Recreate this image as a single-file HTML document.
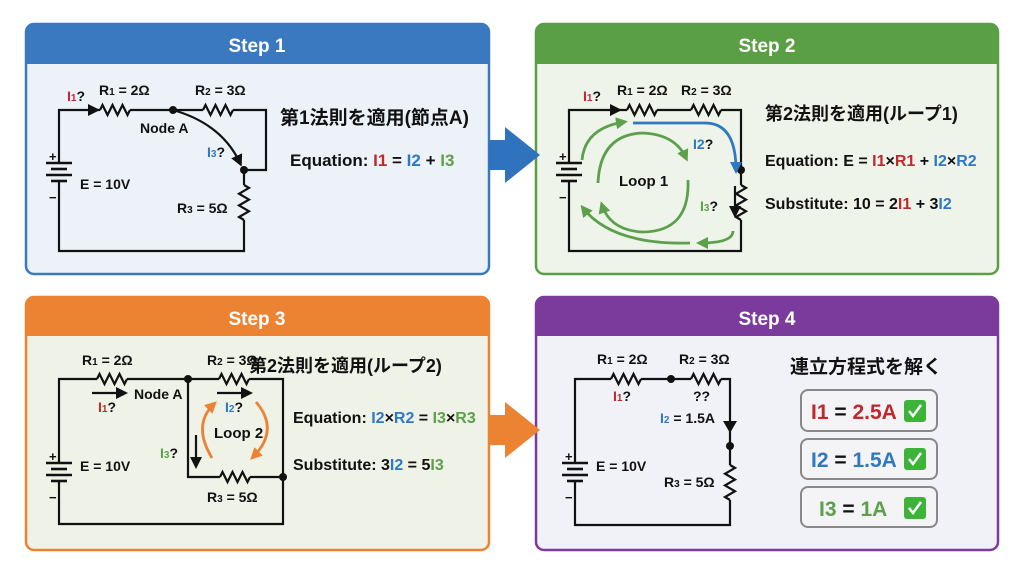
<!DOCTYPE html>
<html><head><meta charset="utf-8"><style>
html,body{margin:0;padding:0;background:#fff;}
svg text{font-family:"Liberation Sans","Noto Sans CJK JP",sans-serif;font-weight:bold;}
</style></head><body>
<svg width="1024" height="572" viewBox="0 0 1024 572" xmlns="http://www.w3.org/2000/svg">
<defs>
<path id="rh" d="M0 0 L2.5 -5 L7.5 5 L12.5 -5 L17.5 5 L22.5 -5 L27.5 5 L30 0" fill="none" stroke="#111" stroke-width="2.2"/>
<path id="rv" d="M0 0 L5 2.9 L-5 8.75 L5 14.6 L-5 20.4 L5 26.25 L-5 32 L0 35" fill="none" stroke="#111" stroke-width="2.2"/>
<g id="bat" stroke="#111" stroke-width="2.6">
<line x1="-13" y1="0" x2="13" y2="0"/><line x1="-8" y1="6" x2="8" y2="6"/>
<line x1="-13" y1="12" x2="13" y2="12"/><line x1="-8" y1="18" x2="8" y2="18"/>
</g>
<marker id="ag" markerWidth="12" markerHeight="12" refX="8" refY="6" orient="auto" markerUnits="userSpaceOnUse"><path d="M0 0 L12 6 L0 12z" fill="#5da04c"/></marker>
<marker id="ab" markerWidth="12" markerHeight="12" refX="8" refY="6" orient="auto" markerUnits="userSpaceOnUse"><path d="M0 0 L12 6 L0 12z" fill="#2f78c2"/></marker>
<marker id="ao" markerWidth="12" markerHeight="12" refX="8" refY="6" orient="auto" markerUnits="userSpaceOnUse"><path d="M0 0 L12 6 L0 12z" fill="#ec8332"/></marker>
<marker id="ak2" markerWidth="12" markerHeight="12" refX="8" refY="6" orient="auto" markerUnits="userSpaceOnUse"><path d="M0 0 L12 6 L0 12z" fill="#111"/></marker>
</defs>

<rect x="26" y="24" width="463" height="250" rx="8" fill="#edf2f9" stroke="#3a78bf" stroke-width="2.5"/>
<path d="M26 64 V32 a8 8 0 0 1 8 -8 H481 a8 8 0 0 1 8 8 V64 Z" fill="#3a78bf"/>
<text x="257" y="52" font-size="19" fill="#fff" text-anchor="middle">Step 1</text>

<rect x="536" y="24" width="462" height="250" rx="8" fill="#eef4ea" stroke="#5a9e45" stroke-width="2.5"/>
<path d="M536 64 V32 a8 8 0 0 1 8 -8 H990 a8 8 0 0 1 8 8 V64 Z" fill="#5a9e45"/>
<text x="767" y="52" font-size="19" fill="#fff" text-anchor="middle">Step 2</text>

<rect x="26" y="297" width="463" height="253" rx="8" fill="#eff2e6" stroke="#ec8332" stroke-width="2.5"/>
<path d="M26 336 V305 a8 8 0 0 1 8 -8 H481 a8 8 0 0 1 8 8 V336 Z" fill="#ec8332"/>
<text x="257" y="325" font-size="19" fill="#fff" text-anchor="middle">Step 3</text>

<rect x="536" y="297" width="462" height="253" rx="8" fill="#f1f1f8" stroke="#7b3b9c" stroke-width="2.5"/>
<path d="M536 336 V305 a8 8 0 0 1 8 -8 H990 a8 8 0 0 1 8 8 V336 Z" fill="#7b3b9c"/>
<text x="767" y="325" font-size="19" fill="#fff" text-anchor="middle">Step 4</text>

<path d="M489 140 H505 V127 L540 155 L505 183 V170 H489 Z" fill="#2f72bd"/>
<path d="M489 415 H505 V402 L540 430 L505 458 V445 H489 Z" fill="#ec8332"/>

<g fill="none" stroke="#111" stroke-width="2.2">
<path d="M59 163 V110 H100 M130 110 H203 M233 110 H266 V170 H244 V185 M244 220 V251 H59 V181"/>
<path d="M569 163 V110 H627 M657 110 H691 M721 110 H741 V185 M741 220 V251 H569 V181"/>
<path d="M59 463 V379 H97 M127 379 H219 M249 379 H283 V524 H59 V481 M188 379 V477 H220 M250 477 H283"/>
<path d="M575 463 V379 H611 M641 379 H691 M721 379 H730 V465 M730 500 V525 H575 V481"/>
</g>
<use href="#rh" x="100" y="110"/><use href="#rh" x="203" y="110"/><use href="#rv" x="244" y="185"/>
<use href="#rh" x="627" y="110"/><use href="#rh" x="691" y="110"/><use href="#rv" x="741" y="185"/>
<use href="#rh" x="97" y="379"/><use href="#rh" x="219" y="379"/><use href="#rh" x="220" y="477"/>
<use href="#rh" x="611" y="379"/><use href="#rh" x="691" y="379"/><use href="#rv" x="730" y="465"/>
<use href="#bat" x="59" y="163"/><use href="#bat" x="569" y="163"/><use href="#bat" x="59" y="463"/><use href="#bat" x="575" y="463"/>

<g fill="#111">
<circle cx="173" cy="110" r="4"/><circle cx="244" cy="170" r="4"/>
<circle cx="741" cy="170" r="4"/>
<circle cx="188" cy="379" r="4"/><circle cx="283" cy="477" r="4"/>
<circle cx="671" cy="379" r="4"/><circle cx="730" cy="446" r="4"/>
<path d="M88 104 L100 110 L88 116Z"/><path d="M610 104 L622 110 L610 116Z"/>
<path d="M723 421 L737 421 L730 433Z"/>
</g>
<g font-size="13" fill="#111">
<text x="49" y="161">+</text><text x="49" y="202">−</text>
<text x="559" y="161">+</text><text x="559" y="202">−</text>
<text x="49" y="461">+</text><text x="49" y="502">−</text>
<text x="565" y="461">+</text><text x="565" y="502">−</text>
</g>

<path d="M173 110 Q222 124 240 163" fill="none" stroke="#111" stroke-width="2.2" marker-end="url(#ak2)"/>
<g font-size="14" fill="#111">
<text x="67" y="101"><tspan fill="#c0282c">I</tspan><tspan fill="#c0282c" font-size="10">1</tspan>?</text>
<text x="99" y="95">R<tspan font-size="10">1</tspan> = 2Ω</text>
<text x="195" y="95">R<tspan font-size="10">2</tspan> = 3Ω</text>
<text x="140" y="133">Node A</text>
<text x="207" y="157"><tspan fill="#2f78c2">I</tspan><tspan fill="#2f78c2" font-size="10">3</tspan>?</text>
<text x="80" y="189">E = 10V</text>
<text x="177" y="213">R<tspan font-size="10">3</tspan> = 5Ω</text>
</g>
<text x="280" y="124" font-size="19" fill="#111">第1法則を適用(節点A)</text>
<text x="290" y="166" font-size="17" fill="#111">Equation: <tspan fill="#c0282c">I1</tspan> = <tspan fill="#2f78c2">I2</tspan> + <tspan fill="#5da04c">I3</tspan></text>

<g fill="none" stroke="#5da04c" stroke-width="2.8">
<path d="M582 160 Q585 128 624 122" marker-end="url(#ag)"/>
<path d="M598 183 Q600 135 642 133 Q675 134 686 158" marker-end="url(#ag)"/>
<path d="M688 180 Q690 232 642 232 Q610 230 602 205" marker-end="url(#ag)"/>
<path d="M733 231 Q733 243 700 243" marker-end="url(#ag)"/>
<path d="M690 243 Q612 245 583 208" marker-end="url(#ag)"/>
</g>
<path d="M633 123 H705 Q736 123 736 170" fill="none" stroke="#2f78c2" stroke-width="2.8" marker-end="url(#ab)"/>
<path d="M735 186 V214" fill="none" stroke="#111" stroke-width="2.2" marker-end="url(#ak2)"/>
<g font-size="14" fill="#111">
<text x="583" y="101"><tspan fill="#c0282c">I</tspan><tspan fill="#c0282c" font-size="10">1</tspan>?</text>
<text x="617" y="95">R<tspan font-size="10">1</tspan> = 2Ω</text>
<text x="681" y="95">R<tspan font-size="10">2</tspan> = 3Ω</text>
<text x="693" y="149"><tspan fill="#2f78c2">I2</tspan>?</text>
<text x="619" y="186" font-size="15">Loop 1</text>
<text x="700" y="211"><tspan fill="#5da04c">I</tspan><tspan fill="#5da04c" font-size="10">3</tspan>?</text>
</g>
<text x="765" y="120" font-size="18" fill="#111">第2法則を適用(ループ1)</text>
<text x="765" y="166" font-size="16" fill="#111">Equation: E = <tspan fill="#c0282c">I1</tspan>×<tspan fill="#c0282c">R1</tspan> + <tspan fill="#2f78c2">I2</tspan>×<tspan fill="#2f78c2">R2</tspan></text>
<text x="765" y="209" font-size="16" fill="#111">Substitute: 10 = 2<tspan fill="#c0282c">I1</tspan> + 3<tspan fill="#2f78c2">I2</tspan></text>

<path d="M92 393 H124" stroke="#111" stroke-width="2.2" marker-end="url(#ak2)"/>
<path d="M217 393 H249" stroke="#111" stroke-width="2.2" marker-end="url(#ak2)"/>
<path d="M196 435 V465" stroke="#111" stroke-width="2.2" marker-end="url(#ak2)"/>
<g fill="none" stroke="#ec8332" stroke-width="2.8">
<path d="M212 458 Q192 425 214 404" marker-end="url(#ao)"/>
<path d="M256 402 Q280 430 253 457" marker-end="url(#ao)"/>
</g>
<g font-size="14" fill="#111">
<text x="82" y="365">R<tspan font-size="10">1</tspan> = 2Ω</text>
<text x="207" y="365">R<tspan font-size="10">2</tspan> = 3Ω</text>
<text x="134" y="399">Node A</text>
<text x="98" y="412"><tspan fill="#c0282c">I</tspan><tspan fill="#c0282c" font-size="10">1</tspan>?</text>
<text x="225" y="412"><tspan fill="#2f78c2">I</tspan><tspan fill="#2f78c2" font-size="10">2</tspan>?</text>
<text x="214" y="438" font-size="15">Loop 2</text>
<text x="160" y="458"><tspan fill="#5da04c">I</tspan><tspan fill="#5da04c" font-size="10">3</tspan>?</text>
<text x="80" y="471">E = 10V</text>
<text x="207" y="502">R<tspan font-size="10">3</tspan> = 5Ω</text>
</g>
<text x="249" y="372" font-size="18" fill="#111">第2法則を適用(ループ2)</text>
<text x="293" y="423" font-size="16" fill="#111">Equation: <tspan fill="#2f78c2">I2</tspan>×<tspan fill="#2f78c2">R2</tspan> = <tspan fill="#5da04c">I3</tspan>×<tspan fill="#5da04c">R3</tspan></text>
<text x="293" y="470" font-size="16" fill="#111">Substitute: 3<tspan fill="#2f78c2">I2</tspan> = 5<tspan fill="#5da04c">I3</tspan></text>

<g font-size="14" fill="#111">
<text x="597" y="364">R<tspan font-size="10">1</tspan> = 2Ω</text>
<text x="679" y="364">R<tspan font-size="10">2</tspan> = 3Ω</text>
<text x="613" y="401"><tspan fill="#c0282c">I</tspan><tspan fill="#c0282c" font-size="10">1</tspan>?</text>
<text x="693" y="401">??</text>
<text x="660" y="423"><tspan fill="#2f78c2">I</tspan><tspan fill="#2f78c2" font-size="10">2</tspan> = 1.5A</text>
<text x="596" y="471">E = 10V</text>
<text x="664" y="487">R<tspan font-size="10">3</tspan> = 5Ω</text>
</g>
<text x="790" y="373" font-size="19" fill="#111">連立方程式を解く</text>
<g stroke="#888" stroke-width="2" fill="#f4f4f6">
<rect x="801" y="390" width="136" height="41" rx="7"/>
<rect x="801" y="439" width="136" height="40" rx="7"/>
<rect x="801" y="487" width="136" height="40" rx="7"/>
</g>
<g fill="#3db33a">
<rect x="904" y="400" width="22" height="22" rx="3"/>
<rect x="904" y="448" width="22" height="22" rx="3"/>
<rect x="904" y="497" width="22" height="22" rx="3"/>
</g>
<g fill="none" stroke="#fff" stroke-width="2.5">
<path d="M909 411 L913 416 L921 405"/><path d="M909 459 L913 464 L921 453"/><path d="M909 508 L913 513 L921 502"/>
</g>
<text x="811" y="419" font-size="21" fill="#111"><tspan fill="#c0282c">I1</tspan> = <tspan fill="#c0282c">2.5A</tspan></text>
<text x="811" y="467" font-size="21" fill="#111"><tspan fill="#2f78c2">I2</tspan> = <tspan fill="#2f78c2">1.5A</tspan></text>
<text x="819" y="516" font-size="21" fill="#111"><tspan fill="#5da04c">I3</tspan> = <tspan fill="#5da04c">1A</tspan></text>
</svg>
</body></html>
